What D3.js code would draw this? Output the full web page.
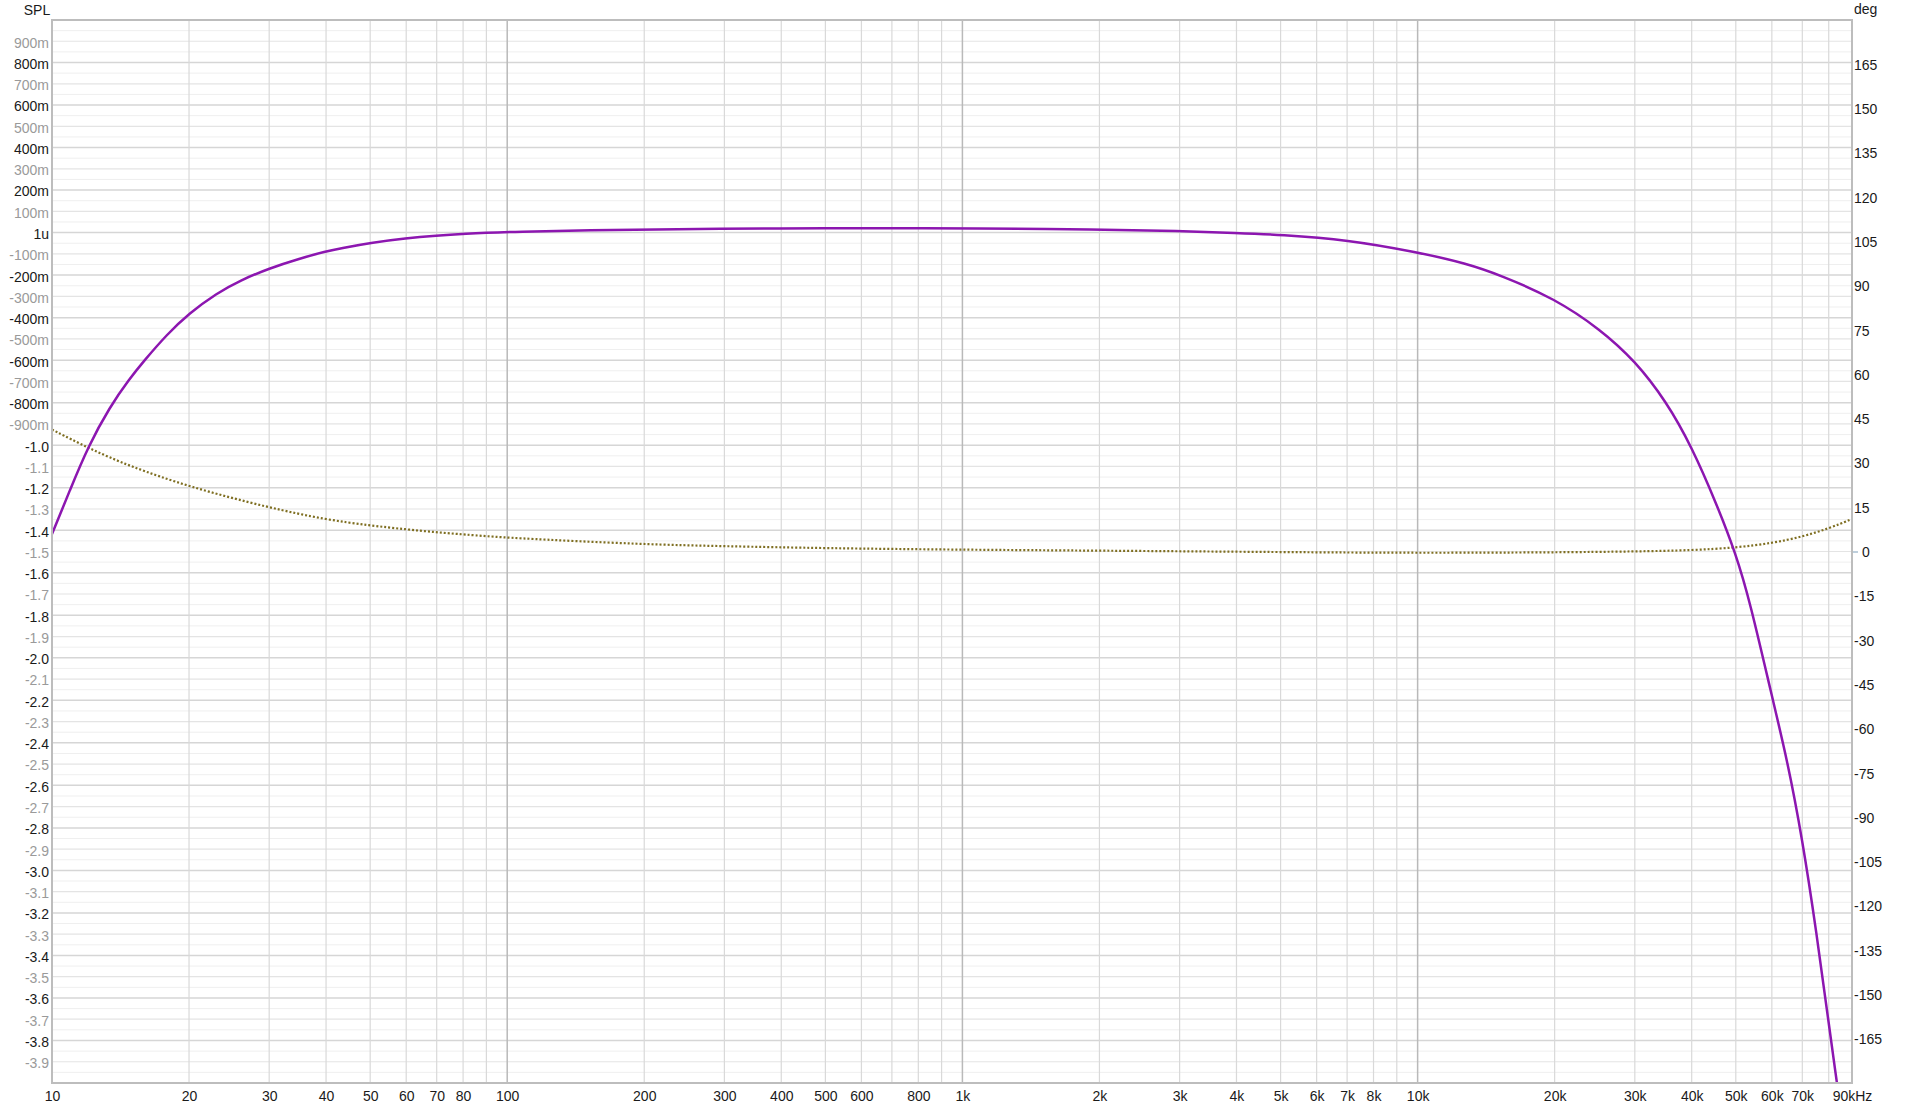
<!DOCTYPE html>
<html>
<head>
<meta charset="utf-8">
<script src="https://cdn.jsdelivr.net/npm/d3@7"></script>
<style>
  html, body { margin: 0; padding: 0; background: #ffffff; }
  svg { display: block; }
  text { font-family: "Liberation Sans", Arial, Helvetica, sans-serif; }
</style>
</head>
<body>
<svg id="chart" width="1920" height="1110"></svg>
<script>
// ---------- DATA ----------
const splFreq = [10, 10.95, 12.0, 13.4, 14.8, 15.9, 17.9, 20, 23, 25.9, 30, 35, 40, 43, 50, 60, 70, 80, 100,
  200, 300, 400, 500, 600, 800, 1000, 2000, 3000, 4000, 5000, 7000, 10000, 12800, 15200, 20000,
  25200, 30000, 35200, 40000, 45400, 50000, 53700, 60000, 64700, 70000, 75300, 80000, 83400];
const splValue = [-1.418, -1.211, -1.007, -0.819, -0.688, -0.605, -0.478, -0.380, -0.285, -0.225, -0.168, -0.122, -0.088, -0.074, -0.048, -0.026, -0.014, -0.006, 0.004,
  0.015, 0.018, 0.020, 0.021, 0.021, 0.021, 0.020, 0.015, 0.008, -0.002, -0.010, -0.033, -0.092, -0.145, -0.200, -0.310,
  -0.455, -0.602, -0.795, -1.007, -1.278, -1.510, -1.735, -2.180, -2.470, -2.850, -3.300, -3.720, -4.0];

const phaseFreq = [10, 12.1, 14.8, 20, 30, 40, 50, 60, 70, 80, 100, 200, 300, 500, 1000, 2000, 5000,
  10000, 20000, 30000, 40000, 50000, 60000, 70000, 80000, 90000];
const phaseDeg = [41.3, 34.8, 28.9, 21.9, 14.8, 10.8, 8.8, 7.5, 6.5, 5.8, 4.6, 2.4, 1.8, 1.1, 0.6, 0.3, -0.2,
  -0.5, -0.3, 0.0, 0.4, 1.3, 2.8, 5.0, 7.8, 11.0];

const xTickValues = [10, 20, 30, 40, 50, 60, 70, 80, 100, 200, 300, 400, 500, 600, 800, 1000,
  2000, 3000, 4000, 5000, 6000, 7000, 8000, 10000, 20000, 30000, 40000, 50000, 60000, 70000, 90000];
const xTickLabels = ["10", "20", "30", "40", "50", "60", "70", "80", "100", "200", "300", "400", "500", "600", "800", "1k",
  "2k", "3k", "4k", "5k", "6k", "7k", "8k", "10k", "20k", "30k", "40k", "50k", "60k", "70k", "90kHz"];

const leftTickLabels = ["900m", "800m", "700m", "600m", "500m", "400m", "300m", "200m", "100m", "1u",
  "-100m", "-200m", "-300m", "-400m", "-500m", "-600m", "-700m", "-800m", "-900m",
  "-1.0", "-1.1", "-1.2", "-1.3", "-1.4", "-1.5", "-1.6", "-1.7", "-1.8", "-1.9",
  "-2.0", "-2.1", "-2.2", "-2.3", "-2.4", "-2.5", "-2.6", "-2.7", "-2.8", "-2.9",
  "-3.0", "-3.1", "-3.2", "-3.3", "-3.4", "-3.5", "-3.6", "-3.7", "-3.8", "-3.9"];
const leftTickValues = leftTickLabels.map((d, i) => +(0.9 - i * 0.1).toFixed(2));

const rightTickLabels = ["165", "150", "135", "120", "105", "90", "75", "60", "45", "30", "15", "0",
  "-15", "-30", "-45", "-60", "-75", "-90", "-105", "-120", "-135", "-150", "-165"];
const rightTickValues = rightTickLabels.map(d => +d);

// ---------- LAYOUT ----------
const L = 52, R = 1852, T = 20, B = 1083;
const svg = d3.select("#chart");
svg.append("rect").attr("width", 1920).attr("height", 1110).attr("fill", "#ffffff");

const x = d3.scaleLog().domain([10, 90000]).range([L, R]);
const yL = d3.scaleLinear().domain([-4, 1]).range([B, T]);
const yR = d3.scaleLinear().domain([-180, 180]).range([B, T]);

// ---------- GRID ----------
const grid = svg.append("g");
const halfSteps = d3.range(0, 101).map(i => +(-4 + i * 0.05).toFixed(2));
halfSteps.forEach(v => {
  const k = Math.round(v * 100);
  let col = "#efefef", w = 1;
  if (k % 10 === 0) {
    if (k % 20 === 0) { col = "#d6d6d6"; w = 1.5; } else { col = "#e4e4e4"; w = 1.2; }
  }
  grid.append("line")
    .attr("x1", L).attr("x2", R)
    .attr("y1", yL(v)).attr("y2", yL(v))
    .attr("stroke", col).attr("stroke-width", w);
});

const decades = [10, 100, 1000, 10000];
const vGrid = [];
decades.forEach(dec => {
  for (let m = 1; m <= 9; m++) {
    const f = dec * m;
    if (f <= 90000) vGrid.push(f);
  }
});
vGrid.forEach(f => {
  const isDecade = decades.includes(f);
  grid.append("line")
    .attr("x1", x(f)).attr("x2", x(f))
    .attr("y1", T).attr("y2", B)
    .attr("stroke", isDecade ? "#b9b9b9" : "#d9d9d9")
    .attr("stroke-width", isDecade ? 1.5 : 1.2);
});

// ---------- CURVES ----------
svg.append("clipPath").attr("id", "clip")
  .append("rect").attr("x", L).attr("y", T).attr("width", R - L).attr("height", B - T);

const phaseData = phaseFreq.map((f, i) => [f, phaseDeg[i]]);
const splData = splFreq.map((f, i) => [f, splValue[i]]);

const phaseLine = d3.line().x(d => x(d[0])).y(d => yR(d[1])).curve(d3.curveBasis);
const splLine = d3.line().x(d => x(d[0])).y(d => yL(d[1])).curve(d3.curveBasis);

const plot = svg.append("g").attr("clip-path", "url(#clip)");
plot.append("path").datum(phaseData)
  .attr("d", phaseLine)
  .attr("fill", "none")
  .attr("stroke", "#7f6f22")
  .attr("stroke-width", 2.2)
  .attr("stroke-dasharray", "2,2");
plot.append("path").datum(splData)
  .attr("d", splLine)
  .attr("fill", "none")
  .attr("stroke", "#8c16b0")
  .attr("stroke-width", 2.5)
  .attr("stroke-linejoin", "round");

// ---------- FRAME ----------
svg.append("rect")
  .attr("x", L).attr("y", T).attr("width", R - L).attr("height", B - T)
  .attr("fill", "none").attr("stroke", "#bdbdbd").attr("stroke-width", 2);

// ---------- AXES ----------
const xAxis = d3.axisBottom(x).tickValues(xTickValues)
  .tickFormat((d, i) => xTickLabels[i]).tickSize(0).tickPadding(0);
const gx = svg.append("g").attr("transform", `translate(0,${B})`).call(xAxis);
gx.select(".domain").remove();
gx.selectAll("text").attr("y", 14).attr("dy", "0.32em")
  .attr("font-size", 14).attr("fill", "#1a1a1a")
  .attr("font-family", "'Liberation Sans', Arial, sans-serif");

const yAxisL = d3.axisLeft(yL).tickValues(leftTickValues)
  .tickFormat((d, i) => leftTickLabels[i]).tickSize(0).tickPadding(0);
const gyl = svg.append("g").attr("transform", `translate(${L - 3},0)`).call(yAxisL);
gyl.select(".domain").remove();
gyl.selectAll("text")
  .attr("font-size", 14).attr("dy", "0.42em")
  .attr("font-family", "'Liberation Sans', Arial, sans-serif")
  .attr("fill", d => (Math.round(Math.abs(d) * 10) % 2 === 0) ? "#1a1a1a" : "#9a9a9a");

const yAxisR = d3.axisRight(yR).tickValues(rightTickValues)
  .tickFormat((d, i) => rightTickLabels[i]).tickSize(0).tickPadding(0);
const gyr = svg.append("g").attr("transform", `translate(${R + 2},0)`).call(yAxisR);
gyr.select(".domain").remove();
gyr.selectAll("text")
  .attr("font-size", 14).attr("dy", "0.36em")
  .attr("font-family", "'Liberation Sans', Arial, sans-serif")
  .attr("fill", "#1a1a1a")
  .attr("x", d => d === 0 ? 8 : 0);
gyr.selectAll(".tick").filter(d => d === 0).append("line")
  .attr("x1", -1).attr("x2", 4).attr("y1", 0).attr("y2", 0)
  .attr("stroke", "#a9bfd0").attr("stroke-width", 1.5);

// ---------- AXIS TITLES ----------
svg.append("text").attr("x", 37).attr("y", 10).attr("dy", "0.35em")
  .attr("text-anchor", "middle").attr("font-size", 14).attr("fill", "#1a1a1a").text("SPL");
svg.append("text").attr("x", 1854).attr("y", 9).attr("dy", "0.35em")
  .attr("text-anchor", "start").attr("font-size", 14).attr("fill", "#1a1a1a").text("deg");
</script>
</body>
</html>
